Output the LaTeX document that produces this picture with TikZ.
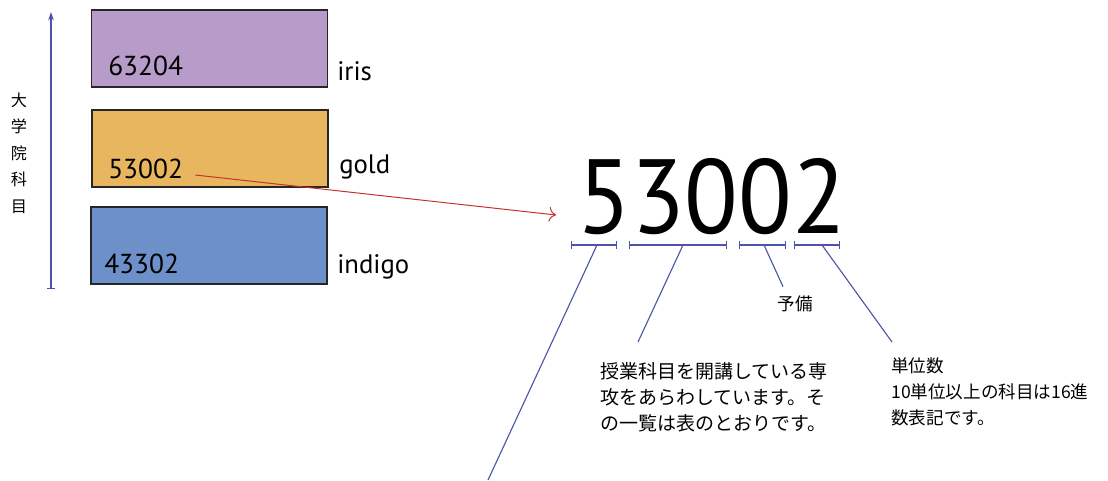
\documentclass[tikz,border=0pt]{standalone}
\usepackage{fontspec}
\setmainfont{PT Sans}
\newfontfamily\jpfont{Noto Sans CJK JP}
\usetikzlibrary{arrows.meta,positioning}
\definecolor{irisc}{HTML}{B79BC9}
\definecolor{goldc}{HTML}{E9B660}
\definecolor{indigoc}{HTML}{6D90C9}
\definecolor{rulec}{HTML}{4B55A8}
\definecolor{redc}{HTML}{C8302A}
\tikzset{
  codebox/.style={draw=black!85,line width=0.8pt,minimum width=5.9cm,minimum height=1.925cm,inner sep=0pt},
  codenum/.style={anchor=base west,inner sep=0pt,font=\fontsize{19.5}{19.5}\selectfont},
  colname/.style={anchor=base west,inner sep=0pt,font=\fontsize{19}{19}\selectfont},
  digitbar/.style={draw=rulec,line width=0.9pt,{Bar[width=6pt]}-{Bar[width=6pt]}},
  leader/.style={draw=rulec,line width=0.8pt},
  note/.style={inner sep=0pt,align=left,anchor=north west,font=\jpfont\fontsize{12.5}{18.8}\selectfont}
}

\begin{document}
\begin{tikzpicture}[x=0.025cm,y=-0.025cm]
\useasboundingbox (0,0) rectangle (1108,480);
% axis on the left
\coordinate (axbot) at (51,289);
\coordinate (axtop) at (51,12);
\draw[leader,{Bar[width=5pt]}-{Stealth[length=6pt,width=4pt]}] (axbot) -- (axtop);
\node[inner sep=0pt,align=center,font=\jpfont\fontsize{11.5}{18.8}\selectfont] (axis) at (19,153) {大\\学\\院\\科\\目};

% coloured boxes
\node[codebox,fill=irisc] (iris) at (209.5,48.5) {};
\node[codebox,fill=goldc] (gold) at (210,148.5) {};
\node[codebox,fill=indigoc] (indigo) at (209,245.5) {};
\node[codenum] (n1) at (108,75) {63204};
\node[codenum] (n2) at (108,178) {53002};
\node[codenum] (n3) at (104,273) {43302};
\node[colname] (l1) at (337,80) {iris};
\node[colname] (l2) at (339,173) {gold};
\node[colname] (l3) at (337,273) {indigo};

% big code
\node[anchor=base west,inner sep=0pt,xscale=0.935,transform shape,font=\fontsize{75}{75}\selectfont] (big) at (577,233) {53002};
\draw[redc,line width=0.7pt,-{To[length=5pt]}] ([shift={(12,-3)}]n2.base east) -- ([shift={(-21,-18)}]big.base west);

% digit groups
\foreach \a/\b in {571/617,629/727,739/786,794/840}
  \draw[digitbar] (\a,245) -- (\b,245);
\coordinate (m1) at (597,245);
\coordinate (m2) at (683,245);
\coordinate (m3) at (764,245);
\coordinate (m4) at (822,245);

% notes
\node[inner sep=0pt,font=\jpfont\fontsize{12.5}{12.5}\selectfont] (spare) at (795,304) {予備};
\node[note,font=\jpfont\fontsize{13.5}{18.5}\selectfont] (dept) at (600,362) {授業科目を開講している専\\攻をあらわしています。そ\\の一覧は表のとおりです。};
\node[note] (units) at (891,357) {単位数\\10単位以上の科目は16進\\数表記です。};

\coordinate (tail) at (488,480);
\draw[leader] (m1) -- (tail);
\draw[leader] (m2) -- ([shift={(38,-20)}]dept.north west);
\draw[leader] (m3) -- ([shift={(-12,-9)}]spare.north);
\draw[leader] (m4) -- ([shift={(1,-15)}]units.north west);
\end{tikzpicture}
\end{document}
